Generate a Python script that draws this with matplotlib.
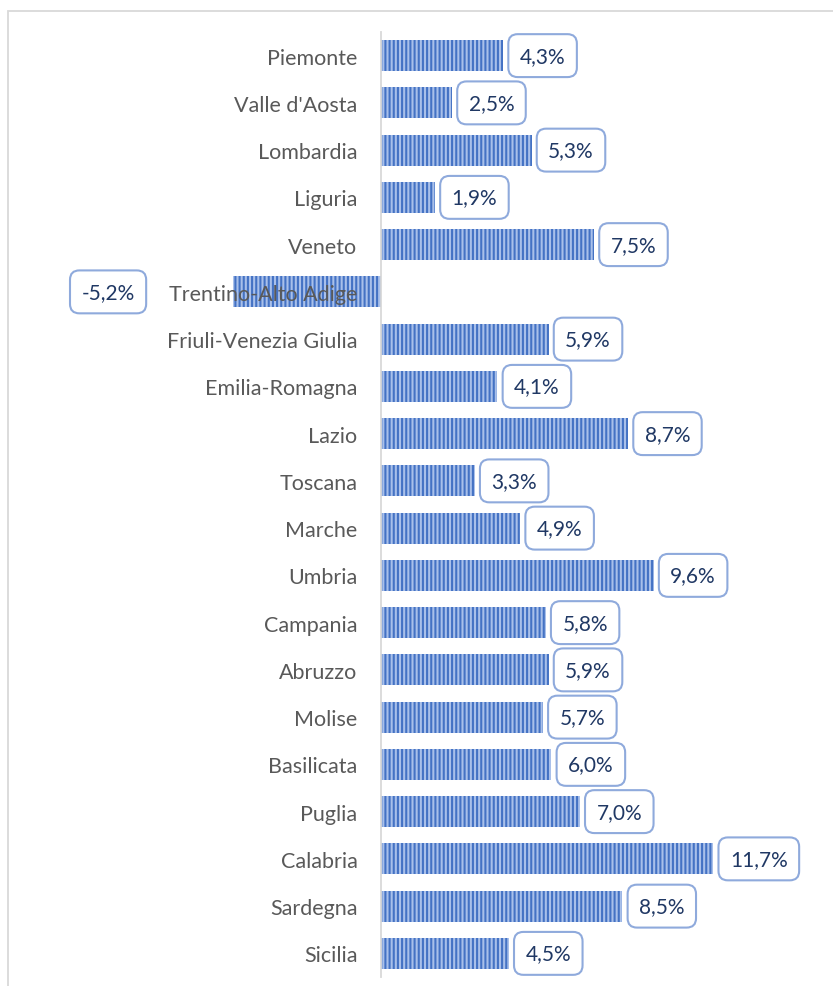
import matplotlib
matplotlib.use('Agg')
import matplotlib.pyplot as plt
from matplotlib.patches import Rectangle

# dati
regioni = ['Piemonte', "Valle d'Aosta", 'Lombardia', 'Liguria', 'Veneto',
           'Trentino-Alto Adige', 'Friuli-Venezia Giulia', 'Emilia-Romagna',
           'Lazio', 'Toscana', 'Marche', 'Umbria', 'Campania', 'Abruzzo',
           'Molise', 'Basilicata', 'Puglia', 'Calabria', 'Sardegna', 'Sicilia']
valori = [4.3, 2.5, 5.3, 1.9, 7.5, -5.2, 5.9, 4.1, 8.7, 3.3, 4.9, 9.6,
          5.8, 5.9, 5.7, 6.0, 7.0, 11.7, 8.5, 4.5]

plt.rcParams['font.family'] = ['Lato', 'DejaVu Sans']
plt.rcParams['hatch.linewidth'] = 1.5

W, H = 833, 987
fig = plt.figure(figsize=(W / 100, H / 100), dpi=100)

# cornice del grafico
fig.patches.append(Rectangle((8 / W, -0.1), 1.1, 1 - 12 / H + 0.1,
                             transform=fig.transFigure, fill=False,
                             edgecolor='#d9d9d9', linewidth=1.3))

ax = fig.add_axes([0, 1 - 978 / H, 1, 945 / H])
ax.patch.set_alpha(0)

# asse verticale sullo zero (prima delle etichette, altrimenti le resetta)
for s in ['top', 'right', 'bottom']:
    ax.spines[s].set_visible(False)
ax.spines['left'].set_position(('data', 0))
ax.spines['left'].set_color('#d9d9d9')
ax.spines['left'].set_linewidth(1.3)

pos = list(range(len(regioni)))
ax.barh(pos, valori, height=0.66, color='#a9c0ea', edgecolor='#4472c4',
        hatch='||||', linewidth=0)

px = 28.4  # pixel per punto percentuale
ax.set_xlim(-381 / px, (W - 381) / px)
ax.set_ylim(len(regioni) - 0.5, -0.5)

ax.set_yticks(pos)
ax.set_yticklabels(regioni, fontsize=15.5, color='#595959')
ax.tick_params(axis='y', length=0, pad=17)
ax.set_xticks([])

box = dict(boxstyle='round,pad=0.55,rounding_size=0.45', fc='white',
           ec='#8faadc', lw=1.5)
for p, v in zip(pos, valori):
    txt = f'{v:.1f}%'.replace('.', ',')
    if v >= 0:
        ax.annotate(txt, (v, p), xytext=(12, 0), textcoords='offset points',
                    ha='left', va='center', fontsize=15, color='#203864',
                    bbox=box)
    else:
        ax.annotate(txt, (v, p), xytext=(-71, 0), textcoords='offset points',
                    ha='right', va='center', fontsize=15, color='#203864',
                    bbox=box)

plt.savefig('out.png', dpi=100)
